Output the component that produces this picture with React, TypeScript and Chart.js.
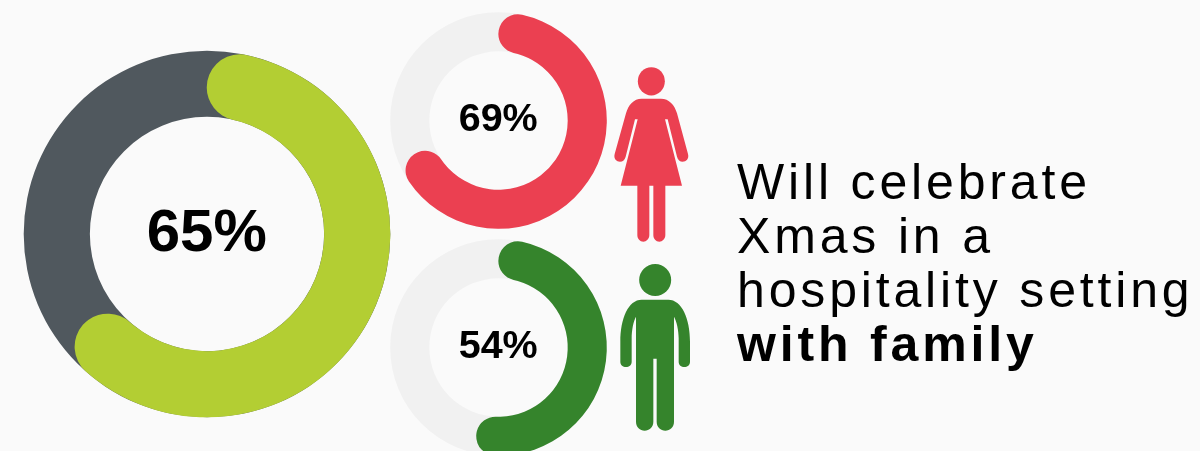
import React, { useEffect, useRef } from "react";
import { Chart, registerables } from "chart.js";

Chart.register(...registerables);

const overallLabel = "All respondents";
const overallValue = 65;
const womenLabel = "Women";
const womenValue = 69;
const menLabel = "Men";
const menValue = 54;
const headlineLines = ["Will celebrate", "Xmas in a", "hospitality setting"];
const headlineBold = "with family";

const PAGE_BG = "#fafafa";

type RingProps = {
  label: string;
  value: number;
  color: string;
  track: string;
  left: number;
  top: number;
  size: number;
  radius: number;
  fontSize: number;
};

// Paints the full ring behind the value arc and prints the percentage in its hole.
const ringDecor = {
  id: "ringDecor",
  beforeDatasetsDraw(chart: any, _args: any, opts: any) {
    const arc = chart.getDatasetMeta(0).data[0];
    const { ctx } = chart;
    ctx.save();
    ctx.fillStyle = opts.track;
    ctx.beginPath();
    ctx.arc(arc.x, arc.y, arc.outerRadius, 0, Math.PI * 2);
    ctx.arc(arc.x, arc.y, arc.innerRadius, 0, Math.PI * 2, true);
    ctx.fill();
    ctx.restore();
  },
  afterDatasetsDraw(chart: any, _args: any, opts: any) {
    const arc = chart.getDatasetMeta(0).data[0];
    const { ctx } = chart;
    ctx.save();
    ctx.fillStyle = "#000000";
    ctx.font = `bold ${opts.fontSize}px "Liberation Sans", Arial, sans-serif`;
    ctx.textAlign = "center";
    ctx.textBaseline = "alphabetic";
    ctx.fillText(opts.text, arc.x - 0.3, arc.y + opts.fontSize * 0.277);
    ctx.restore();
  },
};

function Ring({ label, value, color, track, left, top, size, radius, fontSize }: RingProps) {
  const ref = useRef<HTMLCanvasElement>(null);
  useEffect(() => {
    const chart = new Chart(ref.current as HTMLCanvasElement, {
      type: "doughnut",
      data: {
        labels: [label, "Other"],
        datasets: [
          {
            data: [value, 100 - value],
            backgroundColor: [color, "rgba(0,0,0,0)"],
            borderWidth: 0,
            borderRadius: [400, 0],
          },
        ],
      },
      options: {
        animation: false,
        responsive: false,
        radius,
        cutout: "63.9%",
        plugins: {
          legend: { display: false },
          tooltip: { enabled: false },
          ringDecor: { track, fontSize, text: `${value}%` },
        },
      } as any,
      plugins: [ringDecor],
    });
    return () => chart.destroy();
  }, []);
  return (
    <canvas
      ref={ref}
      width={size}
      height={size}
      style={{ position: "absolute", left, top, width: size, height: size }}
    />
  );
}

function WomanIcon() {
  return (
    <svg
      viewBox="0 0 330 585"
      width={110}
      height={195}
      style={{ position: "absolute", left: 600, top: 55 }}
    >
      <g fill="#eb4051">
        <ellipse cx={154} cy={79} rx={40.5} ry={42.5} />
        <path d="M125 131 H183 C207 131 224 150 231 175 L264 297 C268 312 258 320 248 320 C240 320 233 314 231 305 L203 193 H195 L246 392 H196 V540 C196 552 187 560 178 560 C168 560 160 552 160 540 V392 H148 V540 C148 552 139 560 130 560 C120 560 112 552 112 540 V392 H62 L113 193 H105 L77 305 C75 314 68 320 60 320 C50 320 40 312 44 297 L78 175 C85 150 101 131 125 131 Z" />
      </g>
    </svg>
  );
}

function ManIcon() {
  return (
    <svg
      viewBox="0 0 330 555"
      width={110}
      height={185}
      style={{ position: "absolute", left: 600, top: 255 }}
    >
      <g fill="#35842c">
        <circle cx={165.5} cy={75} r={48} />
        <path d="M125 134 H205 C245 134 270 190 270 260 V320 C270 330 262 336 253 336 C244 336 236 330 236 320 V250 C236 225 230 200 222 185 V500 C222 516 210 527 196 527 C182 527 170 516 170 500 V311 H160 V500 C160 516 148 527 134 527 C120 527 108 516 108 500 V185 C100 200 95 225 95 250 V320 C95 330 87 336 78 336 C69 336 61 330 61 320 V260 C61 190 85 134 125 134 Z" />
      </g>
    </svg>
  );
}

export default function App() {
  const lineStyle = (baseline: number, bold: boolean): React.CSSProperties => ({
    position: "absolute",
    left: 737,
    top: baseline - 45,
    lineHeight: "56px",
    fontFamily: '"Liberation Sans", Arial, sans-serif',
    fontSize: 50,
    fontWeight: bold ? 700 : 400,
    letterSpacing: 3.84,
    color: "#000000",
    whiteSpace: "pre",
  });
  return (
    <div
      style={{
        position: "fixed",
        left: 0,
        top: 0,
        width: 1200,
        height: 451,
        overflow: "hidden",
        background: PAGE_BG,
      }}
    >
      <Ring
        label={overallLabel}
        value={overallValue}
        color="#b3ce33"
        track="#50585e"
        left={7}
        top={34}
        size={400}
        radius={183.3}
        fontSize={60}
      />
      <Ring
        label={womenLabel}
        value={womenValue}
        color="#eb4051"
        track="#f1f1f1"
        left={378}
        top={0}
        size={241}
        radius={108.3}
        fontSize={39.5}
      />
      <Ring
        label={menLabel}
        value={menValue}
        color="#35842c"
        track="#f1f1f1"
        left={378}
        top={227}
        size={241}
        radius={108.3}
        fontSize={39.5}
      />
      <WomanIcon />
      <ManIcon />
      {headlineLines.map((line, i) => (
        <div key={line} style={lineStyle(199 + i * 54, false)}>
          {line}
        </div>
      ))}
      <div style={lineStyle(361, true)}>{headlineBold}</div>
    </div>
  );
}
